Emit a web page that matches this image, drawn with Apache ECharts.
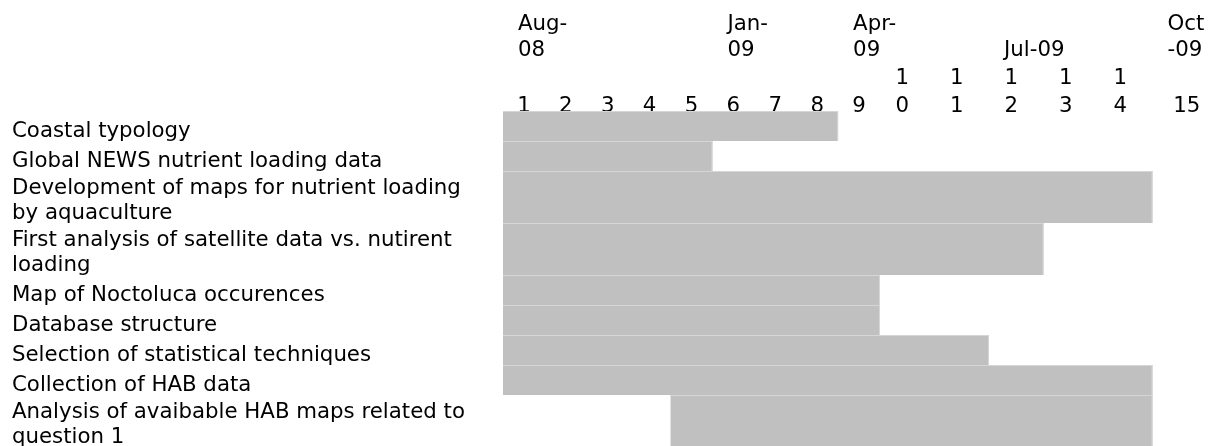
<!DOCTYPE html>
<html>
<head>
<meta charset="utf-8">
<script src="https://cdn.jsdelivr.net/npm/echarts@6/dist/echarts.min.js"></script>
<style>
  html, body { margin: 0; padding: 0; background: #ffffff; }
  #chart { width: 1209px; height: 446px; }
</style>
</head>
<body>
<div id="chart"></div>
<script>
// ---- data (as displayed in the reference) ----
const tasks = [
  'Coastal typology',
  'Global NEWS nutrient loading data',
  'Development of maps for nutrient loading\nby aquaculture',
  'First analysis of satellite data vs. nutirent\nloading',
  'Map of Noctoluca occurences',
  'Database structure',
  'Selection of statistical techniques',
  'Collection of HAB data',
  'Analysis of avaibable HAB maps related to\nquestion 1'
];
const startCol = [1, 1, 1, 1, 1, 1, 1, 1, 5];
const endCol   = [8, 5, 14, 12, 9, 9, 11, 14, 14];
const colLabels = ['1','2','3','4','5','6','7','8','9','1\n0','1\n1','1\n2','1\n3','1\n4','15'];
const monthCols = [1, 6, 9, 12, 15];
const monthLabels = ['Aug-\n08', 'Jan-\n09', 'Apr-\n09', 'Jul-09', 'Oct\n-09'];

// ---- layout helpers ----
const FONT = 'DejaVu Sans';
const FS = 21.3;
const splitCol = 9;          // columns 1..9 narrow, 10..15 wide
const nCols = colLabels.length;
const lineCount = s => s.split('\n').length;
const rowH = tasks.map(t => 8 + 22 * lineCount(t));
const rowTop = [];
let acc = 0;
rowH.forEach(h => { rowTop.push(acc); acc += h; });
const labelShift = 3;                         // text sits just above the cell bottom
const total = acc + labelShift;               // 1 axis unit = 1 px
const rowBottom = rowTop.map((t, i) => t + rowH[i]);
const labelPos = rowBottom.map(b => b + labelShift);

const barData = tasks.map((t, i) => [startCol[i] - 1, endCol[i], rowTop[i], rowBottom[i]]);

function monthAxisData(fromCol, toCol) {
  const arr = [];
  for (let c = fromCol; c <= toCol; c++) {
    const k = monthCols.indexOf(c);
    arr.push(k >= 0 ? monthLabels[k] : '');
  }
  return arr;
}

function renderBar(params, api) {
  const p0 = api.coord([api.value(0), api.value(2)]);
  const p1 = api.coord([api.value(1), api.value(3)]);
  const cs = params.coordSys;
  const shape = echarts.graphic.clipRectByRect(
    { x: p0[0], y: p0[1], width: p1[0] - p0[0], height: p1[1] - p0[1] },
    { x: cs.x, y: cs.y, width: cs.width, height: cs.height }
  );
  if (!shape) return;
  const edge = { stroke: '#d6d6d6', lineWidth: 1 };
  const children = [
    { type: 'rect', shape: shape, style: { fill: '#c0c0c0' } },
    { type: 'line', shape: { x1: shape.x, y1: shape.y + 0.5, x2: shape.x + shape.width, y2: shape.y + 0.5 }, style: edge }
  ];
  if (Math.abs(shape.x + shape.width - p1[0]) < 0.5) {
    children.push({ type: 'line', shape: { x1: p1[0] - 0.5, y1: shape.y, x2: p1[0] - 0.5, y2: shape.y + shape.height }, style: edge });
  }
  return { type: 'group', children: children };
}

const hidden = { show: false };
const numAxisBase = {
  type: 'category',
  position: 'top',
  boundaryGap: true,
  axisLine: hidden, axisTick: hidden, splitLine: hidden,
  axisLabel: {
    interval: 0, hideOverlap: false,
    fontFamily: FONT, fontSize: FS, color: '#000',
    lineHeight: 28, verticalAlign: 'bottom', margin: -9
  }
};
const monthAxisBase = {
  type: 'category',
  position: 'top',
  boundaryGap: false,
  axisLine: hidden, axisTick: hidden, splitLine: hidden,
  axisLabel: {
    interval: 0, hideOverlap: false, showMinLabel: true, showMaxLabel: true,
    fontFamily: FONT, fontSize: FS, color: '#000',
    lineHeight: 26, verticalAlign: 'bottom', align: 'left',
    padding: [0, 0, 0, 15], margin: 48
  }
};

// wide columns: digits sit a little left of centre, the last one a little right
const wideColData = colLabels.slice(splitCol).map((v, i, a) => ({
  value: v,
  textStyle: { padding: i === a.length - 1 ? [0, 0, 0, 14] : [0, 10, 0, 0] }
}));

const chart = echarts.init(document.getElementById('chart'), null, { renderer: 'canvas' });
chart.setOption({
  backgroundColor: '#ffffff',
  animation: false,
  textStyle: { fontFamily: FONT },
  grid: [
    { left: 503, top: 111, width: 377, height: total, outerBoundsMode: 'none', containLabel: false },
    { left: 880, top: 111, width: 327, height: total, outerBoundsMode: 'none', containLabel: false }
  ],
  xAxis: [
    { type: 'value', gridIndex: 0, min: 0, max: splitCol, show: false },
    Object.assign({}, numAxisBase, { gridIndex: 0, data: colLabels.slice(0, splitCol) }),
    Object.assign({}, monthAxisBase, { gridIndex: 0, data: monthAxisData(1, splitCol + 1) }),
    { type: 'value', gridIndex: 1, min: splitCol, max: nCols, show: false },
    Object.assign({}, numAxisBase, { gridIndex: 1, data: wideColData }),
    Object.assign({}, monthAxisBase, { gridIndex: 1, data: monthAxisData(splitCol + 1, nCols + 1) })
  ],
  yAxis: [
    {
      type: 'value', gridIndex: 0, min: 0, max: total, inverse: true,
      axisLine: hidden, axisTick: hidden, splitLine: hidden,
      axisLabel: {
        customValues: labelPos,
        formatter: v => { const i = labelPos.indexOf(v); return i >= 0 ? tasks[i] : ''; },
        fontFamily: FONT, fontSize: FS, color: '#000',
        lineHeight: 25, verticalAlign: 'bottom', align: 'left',
        margin: 503 - 12, hideOverlap: false, showMaxLabel: true
      }
    },
    { type: 'value', gridIndex: 1, min: 0, max: total, inverse: true, show: false }
  ],
  series: [
    { type: 'custom', xAxisIndex: 0, yAxisIndex: 0, renderItem: renderBar, data: barData, clip: false },
    { type: 'custom', xAxisIndex: 3, yAxisIndex: 1, renderItem: renderBar, data: barData, clip: false }
  ]
});
</script>
</body>
</html>
